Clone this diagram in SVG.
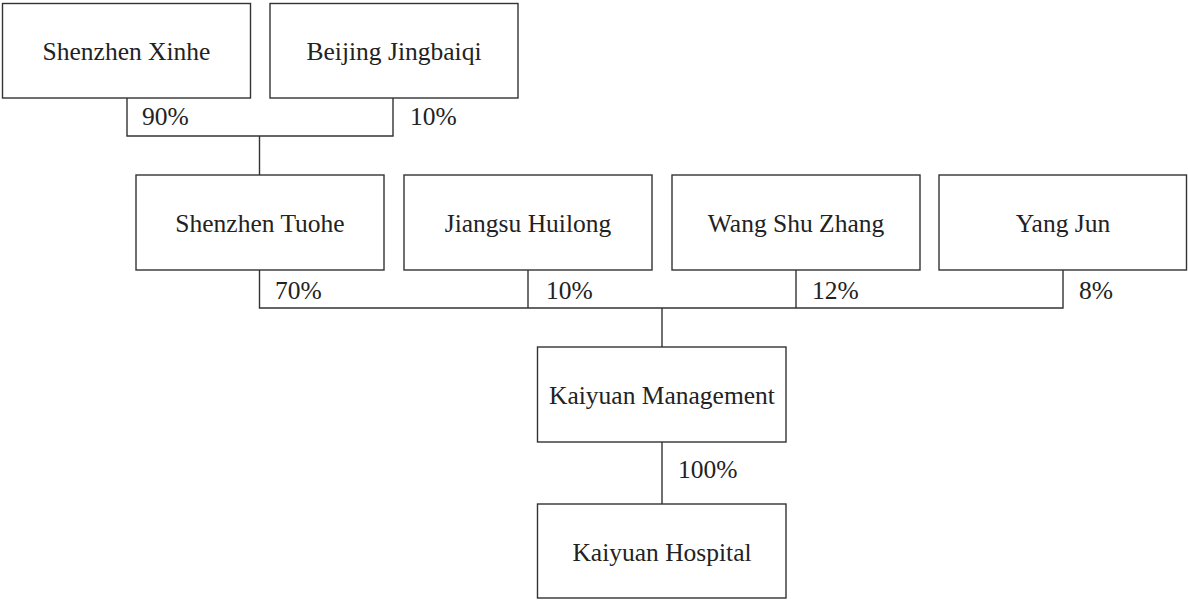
<svg xmlns="http://www.w3.org/2000/svg" width="1188" height="600" viewBox="0 0 1188 600">
<style>
.box{fill:#fff;stroke:#333;stroke-width:1.4}
.lbl{font-family:"Liberation Serif","Times New Roman",serif;font-size:25.5px;fill:#222;text-anchor:middle}
.pct{font-family:"Liberation Serif","Times New Roman",serif;font-size:25.5px;fill:#222}
.con{fill:none;stroke:#333;stroke-width:1.4}
</style>
<rect width="1188" height="600" fill="#fff"/>
<g id="connectors">
<path class="con" d="M127,98 V136 H393 V98 M259.5,136 V175"/>
<path class="con" d="M259.5,270 V308 H1063 V270 M528,270 V308 M796,270 V308 M662,308 V347"/>
<path class="con" d="M662,442 V504"/>
<text class="pct" x="142" y="125">90%</text>
<text class="pct" x="410" y="125">10%</text>
<text class="pct" x="275" y="299">70%</text>
<text class="pct" x="546" y="299">10%</text>
<text class="pct" x="812" y="299">12%</text>
<text class="pct" x="1079" y="299">8%</text>
<text class="pct" x="678" y="478">100%</text>
</g>
<g id="shenzhen-xinhe"><rect class="box" x="2.5" y="3.5" width="248" height="94.5"/><text class="lbl" x="126.5" y="60">Shenzhen Xinhe</text></g>
<g id="beijing-jingbaiqi"><rect class="box" x="270" y="3.5" width="248" height="94.5"/><text class="lbl" x="394" y="60">Beijing Jingbaiqi</text></g>
<g id="shenzhen-tuohe"><rect class="box" x="136" y="175" width="248" height="95"/><text class="lbl" x="260" y="232">Shenzhen Tuohe</text></g>
<g id="jiangsu-huilong"><rect class="box" x="404" y="175" width="248" height="95"/><text class="lbl" x="528" y="232">Jiangsu Huilong</text></g>
<g id="wang-shu-zhang"><rect class="box" x="672" y="175" width="248" height="95"/><text class="lbl" x="796" y="232">Wang Shu Zhang</text></g>
<g id="yang-jun"><rect class="box" x="939" y="175" width="247.5" height="95"/><text class="lbl" x="1063" y="232">Yang Jun</text></g>
<g id="kaiyuan-management"><rect class="box" x="537.5" y="347" width="248.5" height="95"/><text class="lbl" x="662" y="404">Kaiyuan Management</text></g>
<g id="kaiyuan-hospital"><rect class="box" x="537.5" y="504" width="248.5" height="94"/><text class="lbl" x="662" y="561">Kaiyuan Hospital</text></g>
</svg>
